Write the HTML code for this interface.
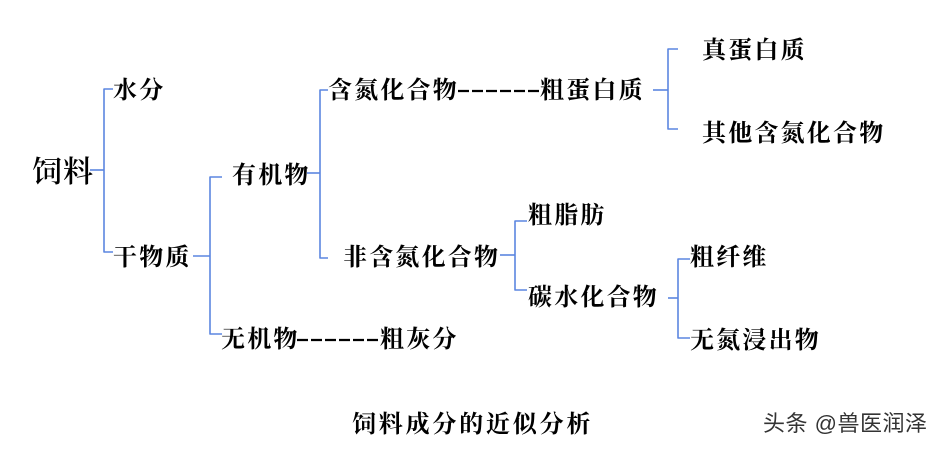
<!DOCTYPE html>
<html><head><meta charset="utf-8">
<style>
html,body{margin:0;padding:0;background:#fff;}
#c{position:relative;width:949px;height:451px;overflow:hidden;background:#fff;}
.t{position:absolute;white-space:nowrap;font-family:"Liberation Serif","Noto Serif CJK SC",serif;font-weight:700;color:#000;font-size:24px;line-height:24px;letter-spacing:2.2px;}
svg{position:absolute;left:0;top:0;}
</style></head><body>
<div id="c">
<svg width="949" height="451" viewBox="0 0 949 451">
<g fill="none" stroke="#5b86e0" stroke-width="1.6" stroke-linejoin="round">
<path d="M113 89 H104 V252 H113"/><path d="M90 170 H104"/>
<path d="M222 177 H210 V334 H222"/><path d="M193 256 H210"/>
<path d="M328 90 H320 V258 H328"/><path d="M307 173 H320"/>
<path d="M678 49 H668 V129 H678"/><path d="M653 90 H668"/>
<path d="M527 221 H515 V290 H527"/><path d="M500 255 H515"/>
<path d="M690 259 H678 V338 H690"/><path d="M668 298 H678"/>
</g>
<g stroke="#000" stroke-width="2.2" stroke-dasharray="11 3">
<line x1="458" y1="91" x2="540" y2="91"/>
<line x1="297" y1="340" x2="380" y2="340"/>
</g>
</svg>
<div class="t" style="left:32px;top:158px;font-size:30px;line-height:30px;font-weight:600;letter-spacing:1px;">饲料</div>
<div class="t" style="left:113px;top:79px;">水分</div>
<div class="t" style="left:113px;top:246px;">干物质</div>
<div class="t" style="left:232px;top:164px;">有机物</div>
<div class="t" style="left:221px;top:328px;">无机物</div>
<div class="t" style="left:380px;top:328px;">粗灰分</div>
<div class="t" style="left:328px;top:79px;">含氮化合物</div>
<div class="t" style="left:540px;top:79px;">粗蛋白质</div>
<div class="t" style="left:702px;top:39px;">真蛋白质</div>
<div class="t" style="left:702px;top:122px;">其他含氮化合物</div>
<div class="t" style="left:343px;top:246px;">非含氮化合物</div>
<div class="t" style="left:528px;top:204px;">粗脂肪</div>
<div class="t" style="left:528px;top:286px;">碳水化合物</div>
<div class="t" style="left:690px;top:246px;">粗纤维</div>
<div class="t" style="left:690px;top:329px;">无氮浸出物</div>
<div class="t" style="left:352px;top:413px;letter-spacing:2.8px;">饲料成分的近似分析</div>
<div class="t" style="left:763px;top:413px;font-family:'Liberation Sans','Noto Sans CJK SC',sans-serif;font-weight:400;font-size:22px;line-height:22px;letter-spacing:0.5px;color:#333;">头条 @兽医润泽</div>
</div>
</body></html>
